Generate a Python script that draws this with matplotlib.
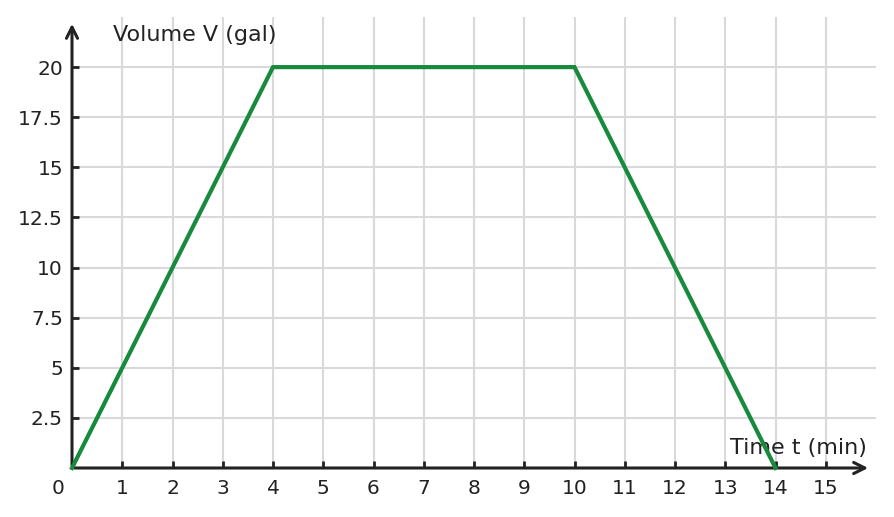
import matplotlib
matplotlib.use("Agg")
import matplotlib.pyplot as plt

time_points = [0, 4, 10, 14]
volume_points = [0, 20, 20, 0]
x_ticks = list(range(1, 16))
y_ticks = [2.5, 5, 7.5, 10, 12.5, 15, 17.5, 20]
y_tick_labels = ["2.5", "5", "7.5", "10", "12.5", "15", "17.5", "20"]

fig = plt.figure(figsize=(8.94, 5.17), dpi=100)
ax = fig.add_axes([72/894, 49/517, (876-72)/894, (468-17)/517])
ax.set_xlim(0, 16)
ax.set_ylim(0, 22.5)

for s in ax.spines.values():
    s.set_visible(False)

# grid
for x in range(1, 16):
    ax.axvline(x, color="#d9d9d9", lw=1.5, zorder=0)
for y in y_ticks:
    ax.axhline(y, color="#d9d9d9", lw=1.5, zorder=0)

dark = "#222222"
# axes with arrows
ax.annotate("", xy=(15.9, 0), xytext=(0, 0),
            arrowprops=dict(arrowstyle="->", color=dark, lw=2.2, mutation_scale=20),
            annotation_clip=False, zorder=3)
ax.annotate("", xy=(0, 22.3), xytext=(0, 0),
            arrowprops=dict(arrowstyle="->", color=dark, lw=2.2, mutation_scale=20),
            annotation_clip=False, zorder=3)

ax.set_xticks(x_ticks)
ax.set_xticklabels([str(t) for t in x_ticks])
ax.set_yticks(y_ticks)
ax.set_yticklabels(y_tick_labels)
ax.tick_params(axis="x", direction="in", length=5, width=2, color=dark,
               labelsize=14.5, labelcolor=dark, pad=8)
ax.tick_params(axis="y", direction="in", length=5, width=2, color=dark,
               labelsize=14.5, labelcolor=dark, pad=6.5)

ax.plot(time_points, volume_points, color="#178a3e", lw=3, zorder=4,
        solid_joinstyle="miter", clip_on=False)

ax.text(-0.15, -0.55, "0", ha="right", va="top", fontsize=14.5, color=dark)
ax.text(0.82, 21.6, "Volume V (gal)", ha="left", va="center", fontsize=16, color=dark)
ax.text(13.1, 1.0, "Time t (min)", ha="left", va="center", fontsize=16, color=dark)

fig.savefig("out.png", dpi=100)
